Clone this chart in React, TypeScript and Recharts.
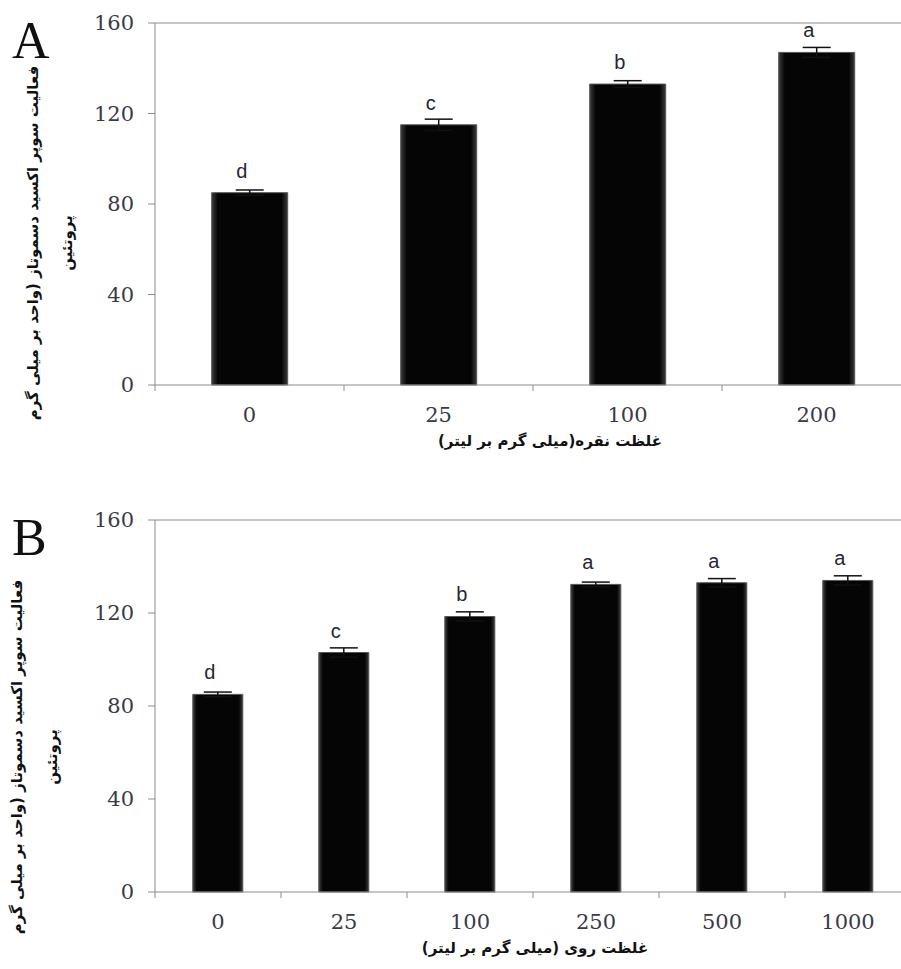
import { Bar, BarChart, ErrorBar, LabelList, ReferenceLine, XAxis, YAxis } from "recharts";

// Panel A: silver concentration
const silverDoses = ["0", "25", "100", "200"];
const silverSod = [85, 115, 133, 147];
const silverErr = [1.2, 2.5, 1.5, 2.2];
const silverLetters = ["d", "c", "b", "a"];

// Panel B: zinc concentration
const zincDoses = ["0", "25", "100", "250", "500", "1000"];
const zincSod = [85, 103, 118.5, 132.3, 133, 134];
const zincErr = [1, 2, 2, 1, 1.8, 2];
const zincLetters = ["d", "c", "b", "a", "a", "a"];

const yTicks = [0, 40, 80, 120, 160];

const yTitleLine1 = "فعالیت سوپر  اکسید دسموتاز (واحد بر میلی گرم";
const yTitleLine2 = "پروتئین";
const silverTitle = "غلظت نقره(میلی گرم بر لیتر)";
const zincTitle = "غلظت روی  (میلی گرم بر لیتر)";

const AXIS = "#8c8c8c";
const TICK_TEXT = "#3a3a48";
const PERSIAN_FONT = "'DejaVu Sans', sans-serif";
const NUM_FONT = "'DejaVu Serif', serif";

interface Row {
    dose: string;
    sod: number;
    err: number;
    letter: string;
}

function buildRows(doses: string[], sod: number[], err: number[], letters: string[]): Row[] {
    return doses.map((d, i) => ({ dose: d, sod: sod[i], err: err[i], letter: letters[i] }));
}

function XTick(props: any) {
    const { x, y, payload, index, visibleTicksCount } = props;
    const half = payload?.offset ?? 0;
    const last = index === visibleTicksCount - 1;
    return (
        <g>
            <line x1={x - half} x2={x - half} y1={y} y2={y + 6} stroke={AXIS} />
            {last && <line x1={x + half} x2={x + half} y1={y} y2={y + 6} stroke={AXIS} />}
            <text x={x} y={y + 37} textAnchor="middle" fill={TICK_TEXT} fontSize={21} fontFamily={NUM_FONT}>
                {payload.value}
            </text>
        </g>
    );
}

function LetterLabel(props: any) {
    const { x, y, width, value } = props;
    return (
        <text x={x + width / 2 - 8} y={y - 15} textAnchor="middle" fill="#262636" fontSize={20} fontFamily="'Liberation Sans', Arial, sans-serif">
            {value}
        </text>
    );
}

interface PanelProps {
    id: string;
    rows: Row[];
    panelLetter: string;
    xTitle: string;
    xTitleDx: number;
    height: number;
    top: number;
    bottom: number;
    yLine1X: number;
    yLine2X: number;
    yTitleY: number;
    letterY: number;
}

function Panel({ id, rows, panelLetter, xTitle, xTitleDx, height, top, bottom, yLine1X, yLine2X, yTitleY, letterY }: PanelProps) {
    return (
        <BarChart
            width={915}
            height={height}
            data={rows}
            margin={{ top, right: 4, left: 55, bottom }}
            barCategoryGap="30%"
        >
            <defs>
                <linearGradient id={`fill-${id}`} x1="0" y1="0" x2="1" y2="0">
                    <stop offset="0%" stopColor="#3c3c3c" />
                    <stop offset="8%" stopColor="#050505" />
                    <stop offset="92%" stopColor="#050505" />
                    <stop offset="100%" stopColor="#3c3c3c" />
                </linearGradient>
            </defs>
            <XAxis
                dataKey="dose"
                stroke={AXIS}
                tickLine={false}
                tickSize={0}
                tickMargin={0}
                height={60}
                interval={0}
                tick={<XTick />}
                label={(p: any) => {
                    const vb = p.viewBox;
                    return (
                        <text
                            x={vb.x + vb.width / 2 + xTitleDx}
                            y={vb.y + 61}
                            textAnchor="middle"
                            direction="rtl"
                            fontFamily={PERSIAN_FONT}
                            fontWeight="bold"
                            fontSize={15}
                            fill="#111"
                        >
                            {xTitle}
                        </text>
                    );
                }}
            />
            <YAxis
                domain={[0, 160]}
                ticks={yTicks}
                width={100}
                stroke={AXIS}
                tickSize={7}
                tickMargin={14}
                tick={{ fill: TICK_TEXT, fontSize: 21, fontFamily: NUM_FONT }}
                label={() => (
                    <g>
                        <text x={12} y={letterY} fontSize={52} fontFamily="'Liberation Serif', serif" fill="#111">
                            {panelLetter}
                        </text>
                        <text
                            x={yLine1X}
                            y={yTitleY}
                            transform={`rotate(-90, ${yLine1X}, ${yTitleY})`}
                            textAnchor="middle"
                            dominantBaseline="central"
                            direction="rtl"
                            fontFamily={PERSIAN_FONT}
                            fontWeight="bold"
                            fontSize={15}
                            fill="#111"
                        >
                            {yTitleLine1}
                        </text>
                        <text
                            x={yLine2X}
                            y={yTitleY}
                            transform={`rotate(-90, ${yLine2X}, ${yTitleY})`}
                            textAnchor="middle"
                            dominantBaseline="central"
                            direction="rtl"
                            fontFamily={PERSIAN_FONT}
                            fontWeight="bold"
                            fontSize={15}
                            fill="#111"
                        >
                            {yTitleLine2}
                        </text>
                    </g>
                )}
            />
            <ReferenceLine y={160} stroke={AXIS} />
            <Bar dataKey="sod" fill={`url(#fill-${id})`} stroke="#555" strokeWidth={1} isAnimationActive={false}>
                <ErrorBar dataKey="err" width={14} stroke="#111" strokeWidth={1.5} />
                <LabelList dataKey="letter" content={<LetterLabel />} />
            </Bar>
        </BarChart>
    );
}

export default function App() {
    const silverRows = buildRows(silverDoses, silverSod, silverErr, silverLetters);
    const zincRows = buildRows(zincDoses, zincSod, zincErr, zincLetters);
    return (
        <div style={{ position: "absolute", left: 0, top: 0, width: 901, height: 969, overflow: "hidden", background: "#fff" }}>
            <Panel
                id="a"
                rows={silverRows}
                panelLetter="A"
                xTitle={silverTitle}
                xTitleDx={17}
                height={470}
                top={23}
                bottom={25}
                yLine1X={33}
                yLine2X={67}
                yTitleY={243}
                letterY={58}
            />
            <Panel
                id="b"
                rows={zincRows}
                panelLetter="B"
                xTitle={zincTitle}
                xTitleDx={2}
                height={499}
                top={50}
                bottom={17}
                yLine1X={17}
                yLine2X={52}
                yTitleY={287}
                letterY={85}
            />
        </div>
    );
}
